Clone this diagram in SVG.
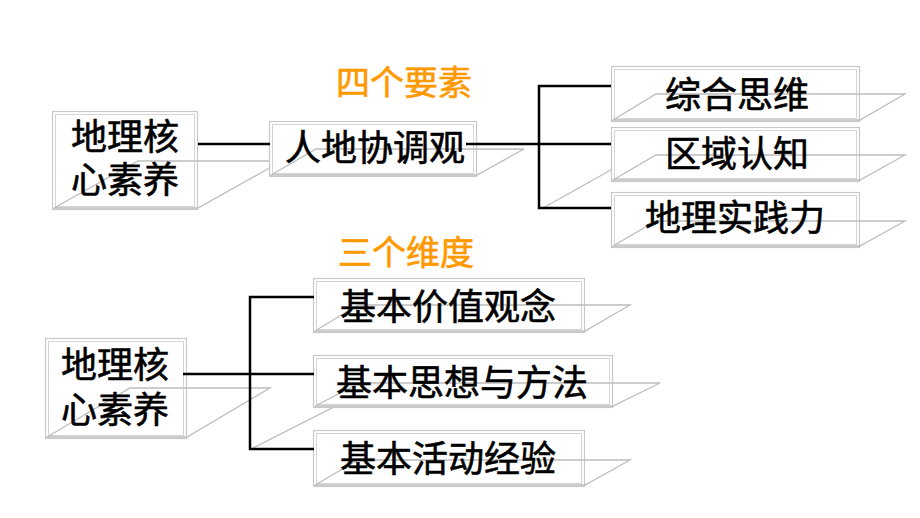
<svg xmlns="http://www.w3.org/2000/svg" width="920" height="518" viewBox="0 0 920 518">
<style>
.box{fill:#fff;stroke:#c8c8c8;stroke-width:1.2}
.inner{fill:none;stroke:#d4d4d4;stroke-width:1}
.plane{fill:none;stroke:#bdbdbd;stroke-width:1.3}
.t{font-family:"Noto Sans CJK SC","Noto Sans CJK JP",sans-serif;font-size:36px;fill:#000;stroke:#000;stroke-width:0.6;text-anchor:middle}
.lbl{font-family:"Noto Sans CJK SC","Noto Sans CJK JP",sans-serif;font-size:34px;fill:#FF9900;stroke:#FF9900;stroke-width:0.6;text-anchor:middle}
.c{fill:none;stroke:#000;stroke-width:2.5}
.g{fill:none;stroke:#bdbdbd;stroke-width:1.3}
</style>
<rect width="920" height="518" fill="#fff"/>

<text class="lbl" x="404" y="95">四个要素</text>
<text class="lbl" x="406" y="265">三个维度</text>

<g id="extra-lines">
<line class="g" x1="543" y1="208" x2="650" y2="148"/>
<line class="g" x1="253" y1="448" x2="399" y2="374"/>
</g>

<g id="node-core1">
<rect class="box" x="52.5" y="111.5" width="145" height="98"/>
<rect class="inner" x="55.5" y="114.5" width="139" height="92"/>
<polygon class="plane" points="54,208 198,208 282,161 138,161"/>
<text class="t" x="125" y="150">地理核</text>
<text class="t" x="125" y="193">心素养</text>
</g>

<g id="node-rendi">
<rect class="box" x="269.5" y="121.5" width="207" height="55"/>
<rect class="inner" x="272.5" y="124.5" width="201" height="49"/>
<polygon class="plane" points="271,175 477,175 524,149 316,149"/>
<text class="t" x="375" y="161">人地协调观</text>
</g>

<g id="node-zonghe">
<rect class="box" x="611.5" y="66.5" width="248" height="55"/>
<rect class="inner" x="614.5" y="69.5" width="242" height="49"/>
<polygon class="plane" points="613,120 860,120 905,94 656,94"/>
<text class="t" x="737" y="108">综合思维</text>
</g>

<g id="node-quyu">
<rect class="box" x="611.5" y="127.5" width="248" height="54"/>
<rect class="inner" x="614.5" y="130.5" width="242" height="48"/>
<polygon class="plane" points="613,180 860,180 905,155 656,155"/>
<text class="t" x="737" y="167">区域认知</text>
</g>

<g id="node-shijian">
<rect class="box" x="611.5" y="192.5" width="248" height="55"/>
<rect class="inner" x="614.5" y="195.5" width="242" height="49"/>
<polygon class="plane" points="613,246 860,246 905,221 656,221"/>
<text class="t" x="735" y="231">地理实践力</text>
</g>

<g id="node-core2">
<rect class="box" x="45.5" y="338.5" width="141" height="100"/>
<rect class="inner" x="48.5" y="341.5" width="135" height="94"/>
<polygon class="plane" points="47,437 187,437 270,388 130,388"/>
<text class="t" x="115" y="378">地理核</text>
<text class="t" x="115" y="423">心素养</text>
</g>

<g id="node-jiazhi">
<rect class="box" x="313.5" y="278.5" width="271" height="54"/>
<rect class="inner" x="316.5" y="281.5" width="265" height="48"/>
<polygon class="plane" points="315,331 585,331 630,305 358,305"/>
<text class="t" x="448" y="320">基本价值观念</text>
</g>

<g id="node-sixiang">
<rect class="box" x="313.5" y="355.5" width="299" height="52"/>
<rect class="inner" x="316.5" y="358.5" width="293" height="46"/>
<polygon class="plane" points="315,406 613,406 660,383 360,383"/>
<text class="t" x="462" y="396">基本思想与方法</text>
</g>

<g id="node-huodong">
<rect class="box" x="313.5" y="430.5" width="271" height="56"/>
<rect class="inner" x="316.5" y="433.5" width="265" height="50"/>
<polygon class="plane" points="315,485 585,485 630,460 358,460"/>
<text class="t" x="448" y="472">基本活动经验</text>
</g>

<g id="connectors">
<line class="c" x1="198" y1="144" x2="270" y2="144"/>
<line class="c" x1="466" y1="144" x2="611" y2="144"/>
<polyline class="c" points="611,86 539,86 539,208 611,208"/>
<line class="c" x1="183" y1="374" x2="314" y2="374"/>
<polyline class="c" points="314,297 250,297 250,449 314,449"/>
</g>
</svg>
